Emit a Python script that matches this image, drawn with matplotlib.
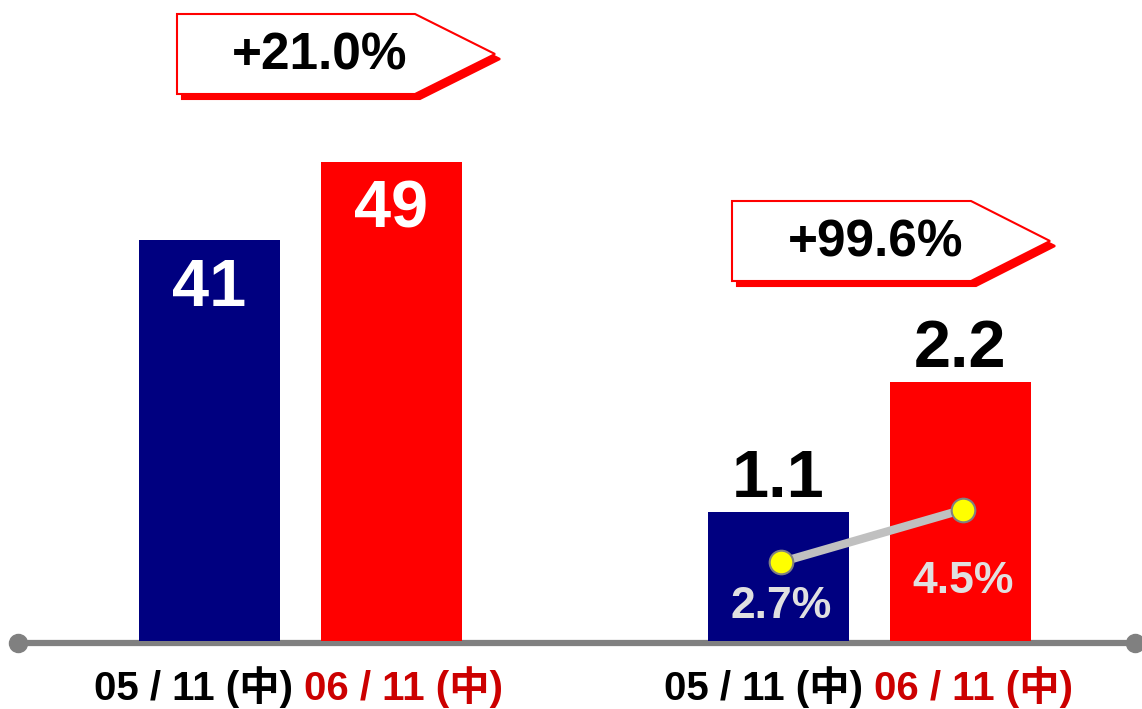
import matplotlib
matplotlib.use('Agg')
import matplotlib.pyplot as plt
from matplotlib import font_manager
from matplotlib.patches import Polygon

# ---------------- data ----------------
periods = ['05 / 11 (中)', '06 / 11 (中)']
left_values = [41, 49]
right_values = [1.1, 2.2]
ratio_values = [2.7, 4.5]
ratio_labels = ['2.7%', '4.5%']
growth_labels = ['+21.0%', '+99.6%']

# ---------------- style ----------------
W, H, DPI = 1142, 709, 100
NAVY = '#000080'
RED = '#ff0000'
DARKRED = '#cc0000'
GREY = '#808080'

names = {f.name for f in font_manager.fontManager.ttflist}
NUM_FONT = 'Liberation Sans Narrow' if 'Liberation Sans Narrow' in names else 'Liberation Sans'
FAM = [NUM_FONT, 'Noto Sans CJK JP', 'DejaVu Sans']
plt.rcParams['font.family'] = FAM

fig = plt.figure(figsize=(W / DPI, H / DPI), dpi=DPI, facecolor='white')

# background axes in pixel coordinates (decorations)
bg = fig.add_axes([0, 0, 1, 1])
bg.set_xlim(0, W)
bg.set_ylim(H, 0)
bg.axis('off')

base_px = 641
group_centers = [300, 869]
offset = 91
bar_w = 141

# axis line with round ends
bg.plot([18, 1135], [643, 643], color=GREY, lw=4.5, solid_capstyle='butt', zorder=1)
bg.plot([18, 1135], [643, 643], 'o', color=GREY, ms=13, zorder=1)

# bar axes
rect = [0, (H - base_px) / H, 1, base_px / H]


def make_ax(top):
    a = fig.add_axes(rect)
    a.set_xlim(0, W)
    a.set_ylim(0, top)
    a.axis('off')
    a.patch.set_alpha(0)
    return a


ax_l = make_ax(base_px / 9.77)
ax_r = make_ax(base_px / 117.6)
ax_p = make_ax(base_px / 29.2)

colors = [NAVY, RED]
xl = [group_centers[0] - offset, group_centers[0] + offset]
xr = [group_centers[1] - offset, group_centers[1] + offset]

ax_l.bar(xl, left_values, width=bar_w, color=colors, zorder=3)
ax_r.bar(xr, right_values, width=bar_w, color=colors, zorder=3)

for x, v in zip(xl, left_values):
    ax_l.annotate(f'{v}', (x, v), xytext=(0, -35), textcoords='offset points',
                  ha='center', va='center', color='white', fontsize=48,
                  fontweight='bold', family=FAM)
for x, v in zip(xr, right_values):
    ax_r.annotate(f'{v}', (x, v), xytext=(0, 23), textcoords='offset points',
                  ha='center', va='center', color='black', fontsize=48,
                  fontweight='bold', family=FAM)

xp = [x + 3 for x in xr]
ax_p.plot(xp, ratio_values, color='#c0c0c0', lw=6, zorder=4)
ax_p.plot(xp, ratio_values, 'o', ms=17, mfc='#ffff00', mec=GREY, mew=1.5, zorder=5)
for x, v, lab, dy in zip(xp, ratio_values, ratio_labels, [-32, -52]):
    ax_p.annotate(lab, (x, v), xytext=(0, dy), textcoords='offset points',
                  ha='center', va='center', color='#e0e0e0', fontsize=32,
                  fontweight='bold', family=FAM)

# x labels
label_colors = ['black', DARKRED]
label_shift = [-106, 104]
for gc in group_centers:
    for p, c, s in zip(periods, label_colors, label_shift):
        bg.text(gc + s, 700, p, color=c, fontsize=29,
                fontweight='bold', ha='center', va='baseline', family=FAM)


# callouts
def callout(x0, y0, x1, xt, y1, text):
    ym = (y0 + y1) / 2
    pts = [(x0, y0), (x1, y0), (xt, ym), (x1, y1), (x0, y1)]
    sh = [(px + 5, py + 5) for px, py in pts]
    bg.add_patch(Polygon(sh, closed=True, fc=RED, ec=RED, lw=1.5, zorder=6))
    bg.add_patch(Polygon(pts, closed=True, fc='white', ec=RED, lw=1.5, zorder=7))
    bg.text((x0 + x1) / 2 + 24, ym + 2, text, ha='center', va='center', fontsize=37,
            fontweight='bold', color='black', zorder=8, family=FAM)


callout(177, 14, 415, 495, 94, growth_labels[0])
callout(732, 201, 971, 1050, 281, growth_labels[1])

fig.savefig('out.png', dpi=DPI, facecolor='white')
